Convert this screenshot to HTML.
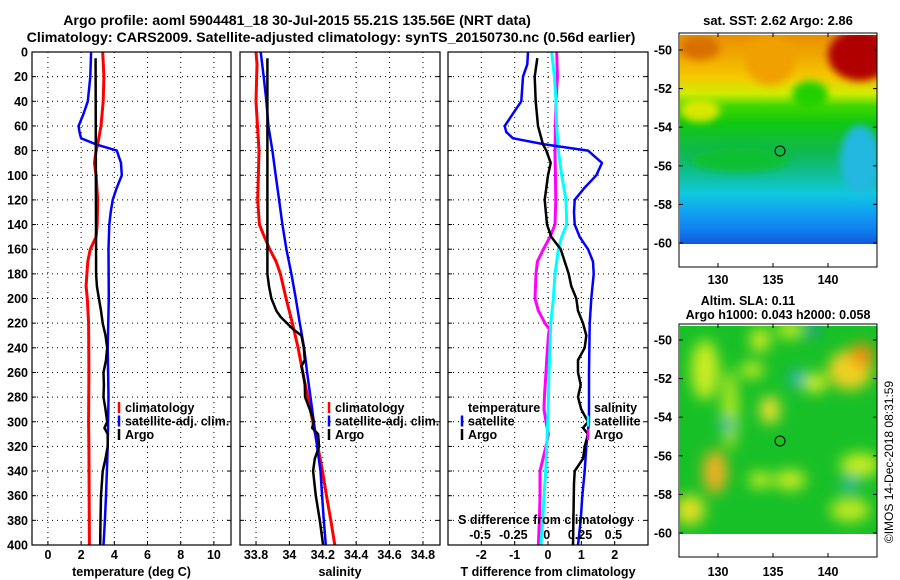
<!DOCTYPE html>
<html><head><meta charset="utf-8">
<style>
html,body{margin:0;padding:0;background:#fff;}
svg{display:block;font-family:"Liberation Sans",sans-serif;font-weight:bold;}
</style></head>
<body>
<svg id="chart" width="900" height="580" viewBox="0 0 900 580" xmlns="http://www.w3.org/2000/svg">
<defs>
<linearGradient id="sstgrad" x1="0" y1="0" x2="0" y2="1">
<stop offset="0" stop-color="#e89000"/><stop offset="0.1" stop-color="#f0a800"/>
<stop offset="0.2" stop-color="#f5c800"/><stop offset="0.28" stop-color="#d0ec00"/>
<stop offset="0.34" stop-color="#40d800"/><stop offset="0.42" stop-color="#10c810"/>
<stop offset="0.56" stop-color="#10b850"/><stop offset="0.68" stop-color="#10c0a0"/>
<stop offset="0.76" stop-color="#10c8e0"/><stop offset="0.85" stop-color="#10a0f0"/>
<stop offset="0.93" stop-color="#1080f0"/><stop offset="1" stop-color="#1058d8"/>
</linearGradient>
<filter id="blur8" x="-50%" y="-50%" width="200%" height="200%"><feGaussianBlur stdDeviation="7"/></filter>
<filter id="blur4" x="-50%" y="-50%" width="200%" height="200%"><feGaussianBlur stdDeviation="4"/></filter>
<clipPath id="clip1"><rect x="680" y="35" width="197" height="209"/></clipPath>
<clipPath id="clip2"><rect x="680" y="326" width="197" height="208"/></clipPath>
</defs>
<g id="titles" font-size="14.2" text-anchor="middle">
<text x="297" y="25">Argo profile: aoml 5904481_18 30-Jul-2015 55.21S 135.56E (NRT data)</text>
<text x="331" y="42">Climatology: CARS2009. Satellite-adjusted climatology: synTS_20150730.nc (0.56d earlier)</text>
</g>
<g id="panels"></g>
<g id="maps">
<g>
<text x="778" y="25" text-anchor="middle" font-size="13">sat. SST: 2.62 Argo: 2.86</text>
<g clip-path="url(#clip1)">
<rect x="680" y="35" width="197" height="209" fill="url(#sstgrad)"/>
<g filter="url(#blur4)">
<ellipse cx="860" cy="55" rx="32" ry="26" fill="#b00000"/>
<ellipse cx="770" cy="60" rx="25" ry="25" fill="#f0a000"/>
<ellipse cx="700" cy="48" rx="20" ry="12" fill="#d87000"/>
<ellipse cx="810" cy="95" rx="18" ry="14" fill="#20d000"/>
<ellipse cx="700" cy="110" rx="20" ry="12" fill="#d8e800"/>
<ellipse cx="860" cy="160" rx="20" ry="35" fill="#20b8e0"/>
<ellipse cx="740" cy="160" rx="50" ry="12" fill="#10c030"/>
</g>
</g>
<rect x="679" y="33" width="198" height="234" fill="none" stroke="#000" stroke-width="1"/>
<circle id="sstmark" cx="780" cy="151" r="5" fill="none" stroke="#000"/>
</g>
<g>
<text x="748" y="305" text-anchor="middle" font-size="12.5">Altim. SLA: 0.11</text>
<text x="778" y="319" text-anchor="middle" font-size="12.5">Argo h1000: 0.043 h2000: 0.058</text>
<g clip-path="url(#clip2)">
<rect x="680" y="326" width="197" height="208" fill="#18c028"/>
<g filter="url(#blur8)">
<ellipse cx="705" cy="370" rx="14" ry="30" fill="#c8ec20"/>
<ellipse cx="730" cy="410" rx="8" ry="40" fill="#b8e820"/>
<ellipse cx="770" cy="410" rx="10" ry="14" fill="#f0e030"/>
<ellipse cx="760" cy="340" rx="10" ry="12" fill="#d0ec20"/>
<ellipse cx="790" cy="330" rx="14" ry="8" fill="#c8ec20"/>
<ellipse cx="752" cy="370" rx="12" ry="8" fill="#c8ec20"/>
<ellipse cx="815" cy="383" rx="12" ry="10" fill="#d0ec20"/>
<ellipse cx="850" cy="370" rx="22" ry="20" fill="#f0d020"/>
<ellipse cx="862" cy="355" rx="12" ry="12" fill="#f09010"/>
<ellipse cx="715" cy="472" rx="12" ry="22" fill="#f0b020"/>
<ellipse cx="690" cy="510" rx="15" ry="15" fill="#e0e020"/>
<ellipse cx="760" cy="480" rx="12" ry="8" fill="#c8ec20"/>
<ellipse cx="790" cy="480" rx="16" ry="10" fill="#c8ec20"/>
<ellipse cx="860" cy="465" rx="20" ry="12" fill="#c8ec20"/>
<ellipse cx="850" cy="510" rx="20" ry="12" fill="#c0e820"/>
<ellipse cx="797" cy="378" rx="7" ry="8" fill="#20b0e0"/>
<ellipse cx="727" cy="425" rx="7" ry="7" fill="#20b0c0"/>
<ellipse cx="850" cy="484" rx="8" ry="7" fill="#20b0c0"/>
<ellipse cx="813" cy="330" rx="6" ry="5" fill="#2080f0"/>
</g>
</g>
<rect x="679" y="324" width="198" height="233" fill="none" stroke="#000" stroke-width="1"/>
<circle cx="780" cy="441" r="5" fill="#20c020" stroke="#000"/>
</g>
<text transform="translate(893,462) rotate(-90)" text-anchor="middle" font-size="12" font-weight="normal">©IMOS 14-Dec-2018 08:31:59</text>
</g>
</svg>
<script>
// ---------- data ----------
const depthTicks = [0,20,40,60,80,100,120,140,160,180,200,220,240,260,280,300,320,340,360,380,400];
const tempTicks = [0,2,4,6,8,10];
const salTicks = [33.8,34,34.2,34.4,34.6,34.8];
const salTickLabels = ["33.8","34","34.2","34.4","34.6","34.8"];
const tdiffTicks = [-2,-1,0,1,2];
const sdiffTickLabels = ["-0.5","-0.25","0","0.25","0.5"];
const sdiffTicks = [-0.5,-0.25,0,0.25,0.5];

const tClimDepth = [0,20,40,60,75,80,90,100,120,140,150,160,170,180,190,200,220,260,300,320,400];
const tClimVal = [3.3,3.37,3.33,3.2,3.0,2.9,2.8,2.9,3.0,2.97,2.9,2.55,2.4,2.35,2.3,2.37,2.45,2.47,2.45,2.47,2.5];
const tSatDepth = [0,20,40,50,60,65,70,75,80,90,100,110,120,130,140,160,200,240,280,320,340,360,380,400];
const tSatVal = [2.6,2.55,2.4,2.15,1.85,1.9,2.0,2.9,4.15,4.4,4.45,4.15,3.9,3.78,3.7,3.65,3.67,3.6,3.65,3.6,3.55,3.5,3.43,3.35];
const tArgoDepth = [5,180,190,200,210,220,230,240,250,260,270,280,290,300,305,310,320,330,340,360,380,400];
const tArgoVal = [2.87,2.9,2.95,3.07,3.2,3.3,3.47,3.57,3.5,3.35,3.37,3.35,3.47,3.57,3.4,3.6,3.6,3.47,3.3,3.2,3.17,3.15];

const sClimDepth = [0,10,40,80,120,140,150,160,170,180,200,220,240,260,280,300,320,340,360,380,400];
const sClimVal = [33.8,33.806,33.8,33.818,33.81,33.82,33.85,33.882,33.92,33.946,33.98,34.018,34.052,34.08,34.11,34.14,34.17,34.198,34.222,34.248,34.272];
const sSatDepth = [0,20,40,60,80,100,120,140,160,180,200,220,240,260,280,300,320,340,360,380,400];
const sSatVal = [33.828,33.846,33.862,33.874,33.898,33.918,33.938,33.958,33.982,34.012,34.038,34.062,34.088,34.106,34.126,34.146,34.166,34.186,34.196,34.206,34.218];
const sArgoDepth = [5,180,190,200,210,215,225,230,240,250,255,260,270,280,290,300,305,310,320,330,340,360,380,400];
const sArgoVal = [33.868,33.868,33.878,33.892,33.922,33.948,34.022,34.072,34.086,34.092,34.072,34.08,34.092,34.094,34.122,34.146,34.136,34.172,34.178,34.152,34.142,34.158,34.182,34.202];

const dtSatDepth = [0,10,20,40,50,60,65,70,75,80,90,100,110,120,130,140,150,160,170,180,200,220,260,300,320,340,360,380,400];
const dtSatVal = [-0.6,-0.62,-0.75,-0.8,-1.05,-1.3,-1.25,-1.05,-0.1,1.2,1.62,1.45,1.1,0.8,0.78,0.8,0.95,1.2,1.35,1.37,1.3,1.25,1.23,1.23,1.15,1.1,1.03,0.98,0.9];
const dtArgoDepth = [5,20,40,60,75,80,90,100,120,140,150,160,170,180,190,200,210,220,230,240,250,260,270,280,290,300,305,310,320,330,340,350,400];
const dtArgoVal = [-0.32,-0.4,-0.37,-0.3,-0.15,-0.05,0.08,0,-0.1,-0.03,0.1,0.38,0.5,0.62,0.7,0.85,0.9,1.05,1.15,1.1,0.9,0.9,0.98,0.9,1.0,1.2,1.05,1.2,1.1,1.05,0.8,0.78,0.75];
const dsArgoDepth = [0,20,40,80,120,140,150,160,170,180,200,210,220,225,230,250,260,280,290,300,310,320,340,360,380,400];
const dsArgoVal = [0.075,0.08,0.07,0.0625,0.068,0.0625,0.025,-0.025,-0.07,-0.08,-0.0875,-0.0625,-0.0125,0.02,0.0125,0,-0.005,-0.0175,-0.02,-0.005,0.0125,-0.005,-0.05,-0.05,-0.055,-0.0625];
const dsSatDepth = [0,20,40,60,80,100,120,140,150,160,180,200,220,240,260,280,300,320,340,360,380,400];
const dsSatVal = [0.0375,0.0575,0.07,0.075,0.0875,0.1125,0.145,0.15,0.1125,0.0875,0.0625,0.05,0.03,0.025,0.0175,0.0125,0.0075,0,-0.0075,-0.02,-0.03,-0.0425];

const lonTicks = [130,135,140];
const latTicks = [-50,-52,-54,-56,-58,-60];

// ---------- drawing ----------
const NS = "http://www.w3.org/2000/svg";
const svg = document.getElementById('chart');
const panelsG = document.getElementById('panels');
function mk(tag, attrs, parent){ const e=document.createElementNS(NS,tag); for(const k in attrs) e.setAttribute(k,attrs[k]); (parent||panelsG).appendChild(e); return e; }
const Y0=52, Y1=545;
function yScale(d){ return Y0 + (d/400)*(Y1-Y0); }

function makePanel(p){
  const g = mk('g',{});
  
  
  const xs = v => p.x0 + (v-p.vmin)/(p.vmax-p.vmin)*(p.x1-p.x0);
  depthTicks.forEach(d=>{
    if(d>0 && d<400){ const l=mk('line',{x1:p.x0,x2:p.x1,y1:yScale(d),y2:yScale(d),stroke:'#000','stroke-width':1,'stroke-dasharray':'1,4'},g);
        }
    mk('line',{x1:p.x1-4,x2:p.x1,y1:yScale(d),y2:yScale(d),stroke:'#000'},g);
    mk('line',{x1:p.x0,x2:p.x0+4,y1:yScale(d),y2:yScale(d),stroke:'#000'},g);
  });
  p.ticks.forEach((t,i)=>{
    const x=xs(t);
    const l=mk('line',{x1:x,x2:x,y1:Y0,y2:Y1,stroke:'#000','stroke-width':1,'stroke-dasharray':'1,4'},g);
     
    mk('line',{x1:x,x2:x,y1:Y1-4,y2:Y1,stroke:'#000'},g);
    const tx=mk('text',{x:x,y:559,'text-anchor':'middle','font-size':12.5},g);
    tx.textContent=p.tickLabels[i];
     
  });
  const xt=mk('text',{x:(p.x0+p.x1)/2,y:576,'text-anchor':'middle','font-size':12.5},g);
  xt.textContent=p.xlabel;
   
  p.series.forEach(s=>{
    const sc = s.scale || xs;
    let dstr='';
    s.depth.forEach((d,i)=>{ dstr += (i?'L':'M')+sc(s.val[i]).toFixed(1)+','+yScale(d).toFixed(1); });
    const path=mk('path',{d:dstr,fill:'none',stroke:s.color,'stroke-width':s.w||2.5,'stroke-linejoin':'round'},g);
    
    
  });
  const box=mk('rect',{x:p.x0,y:Y0,width:p.x1-p.x0,height:Y1-Y0,fill:'none',stroke:'#000','stroke-width':1.2},g);
   
  return {g,xs};
}

depthTicks.forEach(d=>{
  const t=mk('text',{x:28,y:yScale(d)+4.5,'text-anchor':'end','font-size':12.5});
  t.textContent=d;
   
});

const P1 = makePanel({name:'temperature-panel',x0:32,x1:231,vmin:-0.96,vmax:11.03,ticks:tempTicks,tickLabels:tempTicks.map(String),xlabel:'temperature (deg C)',
  series:[{name:'temperature-climatology-line',depth:tClimDepth,val:tClimVal,color:'#ff0000',w:3},
          {name:'temperature-satellite-line',depth:tSatDepth,val:tSatVal,color:'#0000ff'},
          {name:'temperature-argo-line',depth:tArgoDepth,val:tArgoVal,color:'#000'}]});
const P2 = makePanel({name:'salinity-panel',x0:240,x1:440,vmin:33.704,vmax:34.902,ticks:salTicks,tickLabels:salTickLabels,xlabel:'salinity',
  series:[{name:'salinity-climatology-line',depth:sClimDepth,val:sClimVal,color:'#ff0000',w:3},
          {name:'salinity-satellite-line',depth:sSatDepth,val:sSatVal,color:'#0000ff'},
          {name:'salinity-argo-line',depth:sArgoDepth,val:sArgoVal,color:'#000'}]});
const tdx = v => 546.7 + v*33.33;
const sdx = v => 546.7 + v*133.3;
const P3 = makePanel({name:'difference-panel',x0:448,x1:648,vmin:-3,vmax:3,ticks:tdiffTicks,tickLabels:tdiffTicks.map(String),xlabel:'T difference from climatology',
  series:[{name:'salinity-diff-argo-line',depth:dsArgoDepth,val:dsArgoVal,color:'#ff00ff',scale:sdx,w:3},
          {name:'salinity-diff-satellite-line',depth:dsSatDepth,val:dsSatVal,color:'#00ffff',scale:sdx,w:3},
          {name:'temperature-diff-satellite-line',depth:dtSatDepth,val:dtSatVal,color:'#0000ff'},
          {name:'temperature-diff-argo-line',depth:dtArgoDepth,val:dtArgoVal,color:'#000'}]});
const sl=mk('text',{x:546,y:524,'text-anchor':'middle','font-size':12.5});
sl.textContent='S difference from climatology';
 
sdiffTicks.forEach((v,i)=>{
  const t=mk('text',{x:sdx(v),y:539,'text-anchor':'middle','font-size':12.5});
  t.textContent=sdiffTickLabels[i];
   
});

function legend(x,y,items,name){
  const g=mk('g',{});
   
  items.forEach((it,i)=>{
    const yy=y+i*13.5;
    if(it.c) mk('line',{x1:x,x2:x,y1:yy-10,y2:yy+1,stroke:it.c,'stroke-width':2.5},g);
    const t=mk('text',{x:x+6,y:yy,'font-size':12.5,fill:'#000'},g);
    t.textContent=it.t;
     
  });
}
legend(119,412,[{t:'climatology',c:'#ff0000'},{t:'satellite-adj. clim.',c:'#0000ff'},{t:'Argo',c:'#000'}],'temperature-legend');
legend(329,412,[{t:'climatology',c:'#ff0000'},{t:'satellite-adj. clim.',c:'#0000ff'},{t:'Argo',c:'#000'}],'salinity-legend');
legend(462,412,[{t:'temperature'},{t:'satellite',c:'#0000ff'},{t:'Argo',c:'#000'}],'t-diff-legend');
legend(588,412,[{t:'salinity'},{t:'satellite',c:'#00ffff'},{t:'Argo',c:'#ff00ff'}],'s-diff-legend');

const mapsG=document.getElementById('maps');
const lonX = v => 718 + (v-130)*11;
[[33,267,278,50],[324,557,570,340]].forEach(m=>{
  lonTicks.forEach(v=>{
    mk('line',{x1:lonX(v),x2:lonX(v),y1:m[0],y2:m[0]+4,stroke:'#000'},mapsG);
    mk('line',{x1:lonX(v),x2:lonX(v),y1:m[1]-4,y2:m[1],stroke:'#000'},mapsG);
    const t=mk('text',{x:lonX(v),y:m[2]+6,'text-anchor':'middle','font-size':12.5},mapsG);
    t.textContent=v;
     
  });
  latTicks.forEach(v=>{
    const y=m[3]+(-50-v)*19.3;
    mk('line',{x1:679,x2:683,y1:y,y2:y,stroke:'#000'},mapsG);
    mk('line',{x1:873,x2:877,y1:y,y2:y,stroke:'#000'},mapsG);
    const t=mk('text',{x:672,y:y+4.5,'text-anchor':'end','font-size':12.5},mapsG);
    t.textContent=v;
     
  });
});
</script>
</body></html>
